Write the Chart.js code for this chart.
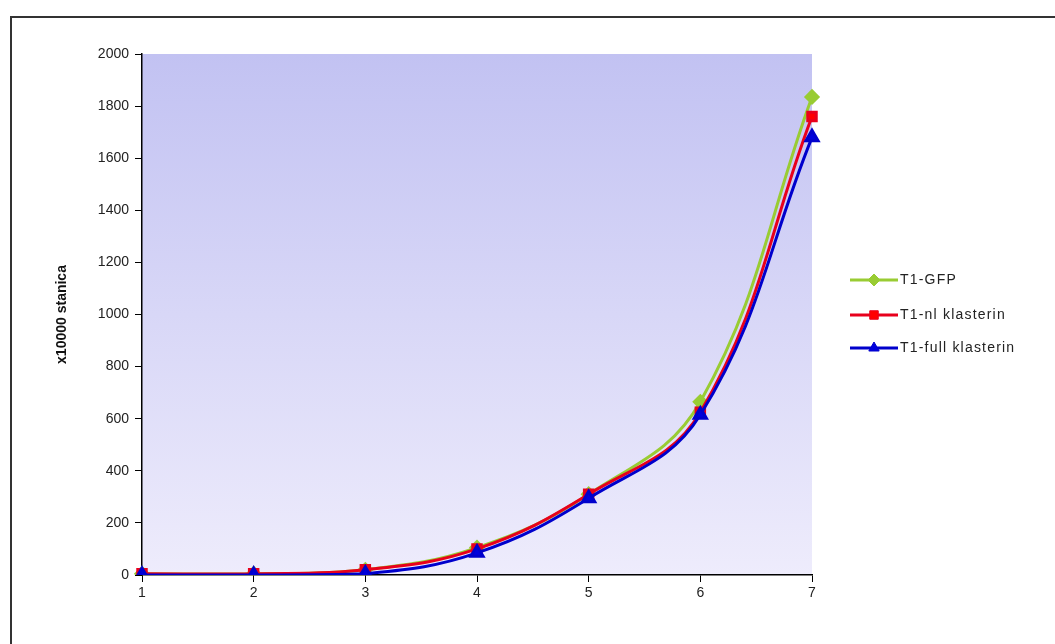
<!DOCTYPE html>
<html>
<head>
<meta charset="utf-8">
<script src="https://cdn.jsdelivr.net/npm/chart.js@4/dist/chart.umd.min.js"></script>
<style>
  body { margin: 0; background: #fff; }
  #frame { position: absolute; left: 10px; top: 16px; width: 1100px; height: 700px; border: 2px solid #333; }
  #wrap { position: absolute; left: 0; top: 0; width: 1055px; height: 644px; }
</style>
</head>
<body>
<div id="frame"></div>
<div id="wrap"><canvas id="myChart" width="1055" height="644"></canvas></div>
<script>
var days = ['1', '2', '3', '4', '5', '6', '7'];
var gfpValues = [5, 5, 20, 105, 310, 665, 1835];
var nlValues = [5, 5, 20, 100, 310, 625, 1760];
var fullValues = [0, 0, 5, 85, 295, 615, 1680];
var yTicks = [0, 200, 400, 600, 800, 1000, 1200, 1400, 1600, 1800, 2000];

// plot area background gradient
var bgPlugin = {
  id: 'bg',
  beforeDraw: function(chart) {
    var c = chart.ctx, a = chart.chartArea;
    var g = c.createLinearGradient(0, a.top, 0, a.bottom);
    g.addColorStop(0, 'rgb(194,194,242)');
    g.addColorStop(1, 'rgb(238,236,252)');
    c.save();
    c.fillStyle = g;
    c.fillRect(a.left, a.top, a.right - a.left, a.bottom - a.top);
    c.restore();
  }
};

// excel style legend: line + marker + text
var legendPlugin = {
  id: 'xlLegend',
  afterDraw: function(chart) {
    var c = chart.ctx;
    var rows = [280, 315, 348];
    c.save();
    c.font = '14px "Liberation Sans", Arial, sans-serif';
    c.letterSpacing = '1.2px';
    c.textBaseline = 'middle';
    chart.data.datasets.forEach(function(ds, i) {
      var y = rows[i];
      c.strokeStyle = ds.borderColor;
      c.lineWidth = 3;
      c.beginPath();
      c.moveTo(850, y);
      c.lineTo(898, y);
      c.stroke();
      c.fillStyle = ds.backgroundColor;
      c.lineWidth = 1;
      Chart.helpers.drawPoint(c, {pointStyle: ds.pointStyle, radius: 6, rotation: 0, borderWidth: 1}, 874, y);
      c.fillStyle = '#222';
      c.fillText(ds.label, 900, y);
    });
    c.restore();
  }
};

var ctx = document.getElementById('myChart').getContext('2d');
var myChart = new Chart(ctx, {
  type: 'line',
  data: {
    labels: days,
    datasets: [
      { label: 'T1-GFP', data: gfpValues, borderColor: '#99cc33', backgroundColor: '#99cc33',
        pointStyle: 'rectRot', pointRadius: 6, borderWidth: 3, tension: 0.4, order: 2 },
      { label: 'T1-nl klasterin', data: nlValues, borderColor: '#e8001c', backgroundColor: '#ff0000',
        pointStyle: 'rect', pointRadius: 6, borderWidth: 3, tension: 0.4, order: 1 },
      { label: 'T1-full klasterin', data: fullValues, borderColor: '#0000cc', backgroundColor: '#0000dd',
        pointStyle: 'triangle', pointRadius: 7, borderWidth: 3, tension: 0.4, order: 0 }
    ]
  },
  options: {
    responsive: false,
    animation: false,
    layout: { padding: { left: 52, top: 54, right: 243, bottom: 16 } },
    plugins: { legend: { display: false }, tooltip: { enabled: false } },
    scales: {
      x: {
        offset: false,
        grid: { drawOnChartArea: false, drawTicks: true, tickLength: 7, color: '#000' },
        border: { color: '#000', width: 1.5 },
        ticks: { color: '#222', font: { size: 14, family: '"Liberation Sans", Arial' }, padding: 3, maxRotation: 0 },
        afterFit: function(s) { s.height = 53; }
      },
      y: {
        min: 0, max: 2000,
        afterBuildTicks: function(s) { s.ticks = yTicks.map(function(v) { return {value: v}; }); },
        grid: { drawOnChartArea: false, drawTicks: true, tickLength: 7, color: '#000' },
        border: { color: '#000', width: 1.5 },
        ticks: { color: '#222', font: { size: 14, family: '"Liberation Sans", Arial' }, padding: 6,
                 callback: function(v) { return String(v); } },
        title: { display: true, text: 'x10000 stanica', color: '#111',
                 font: { size: 14, weight: 'bold', family: '"Liberation Sans", Arial' }, padding: { top: 2, bottom: 2 } },
        afterFit: function(s) { s.width = 90; }
      }
    }
  },
  plugins: [bgPlugin, legendPlugin]
});
</script>
</body>
</html>
